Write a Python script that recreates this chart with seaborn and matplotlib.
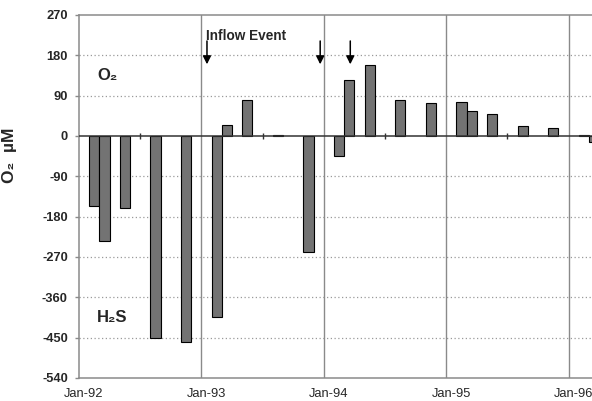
import seaborn as sns
import matplotlib.pyplot as plt
import matplotlib.transforms as mtransforms
import pandas as pd

# sampling months and O2 (+) / H2S (-) values, uM
months = ['Feb-92', 'Mar-92', 'May-92', 'Aug-92', 'Nov-92',
          'Feb-93', 'Mar-93', 'May-93', 'Aug-93', 'Nov-93',
          'Feb-94', 'Mar-94', 'May-94', 'Aug-94', 'Nov-94',
          'Feb-95', 'Mar-95', 'May-95', 'Aug-95', 'Nov-95',
          'Feb-96', 'Mar-96']
o2 = [-156, -234, -161, -450, -460,
      -405, 25, 80, 3, -258,
      -44, 125, 158, 80, 73,
      75, 56, 49, 23, 18,
      2, -14]
year_labels = ['Jan-92', 'Jan-93', 'Jan-94', 'Jan-95', 'Jan-96']
yticks = [-540, -450, -360, -270, -180, -90, 0, 90, 180, 270]
# inflow arrows (month offsets from Jan-92)
arrow_months = [12.55, 23.65, 26.6]

sns.set_style('white')
plt.rcParams['font.family'] = ['Liberation Sans', 'DejaVu Sans']

d = pd.to_datetime(pd.Series(months), format='%b-%y')
df = pd.DataFrame({'pos': (d.dt.year - 1992) * 12 + d.dt.month - 1 + 0.5,
                   'o2': o2})

fig = plt.figure(figsize=(5.92, 4.01), dpi=100)
ax = fig.add_axes([0.1334, 0.0574, 0.8666, 0.9052])

sns.barplot(data=df, x='pos', y='o2', native_scale=True, width=1.0,
            color='#737373', saturation=1, edgecolor='black', linewidth=0.8,
            errorbar=None, ax=ax, zorder=3)

ax.set_xlim(0, 50.3)
ax.set_ylim(-540, 270)

# gridlines
for v in yticks[1:-1]:
    if v != 0:
        ax.axhline(v, color='#9a9a9a', lw=0.9, ls=(0, (1, 2)), zorder=1)
ax.axhline(0, color='#333333', lw=1.1, zorder=4)
for i in range(1, len(year_labels)):
    ax.axvline(i * 12, color='#8a8a8a', lw=1.0, zorder=2)
# july minor ticks on the zero line
jul = [6 + 12 * i for i in range(4)]
ax.plot(jul, [0] * len(jul), ls='none', marker='|', ms=5, mew=1, color='#333333', zorder=5)

for s in ['left', 'top', 'bottom']:
    ax.spines[s].set_color('#8a8a8a')
    ax.spines[s].set_linewidth(1.1)
ax.spines['right'].set_visible(False)

ax.set_yticks(yticks)
ax.set_yticklabels([str(v) for v in yticks], fontweight='bold', fontsize=9.3)
ax.tick_params(axis='y', length=3, width=1, color='#8a8a8a', pad=5, left=True)
ax.set_xticks([12 * i for i in range(len(year_labels))])
ax.set_xticklabels(year_labels, fontsize=9.3)
ax.tick_params(axis='x', length=0, pad=7.5)
off = mtransforms.ScaledTranslation(5 / 100, 0, fig.dpi_scale_trans)
for lab in ax.get_xticklabels():
    lab.set_transform(lab.get_transform() + off)
ax.set_xlabel('')

ax.set_ylabel('O\u2082  \u00b5M', fontsize=12.5, fontweight='bold')
ax.yaxis.set_label_coords(-0.121, 0.614)

ax.text(1.8, 136, 'O\u2082', fontsize=12, fontweight='bold', va='center')
ax.text(1.8, -404, 'H\u2082S', fontsize=12, fontweight='bold', va='center')
ax.text(12.5, 224, 'Inflow Event', fontsize=9.8, fontweight='bold', va='center')
for m in arrow_months:
    ax.annotate('', xy=(m, 160), xytext=(m, 212),
                arrowprops=dict(arrowstyle='-|>', color='black', lw=1.1,
                                mutation_scale=12, shrinkA=0, shrinkB=0))

fig.savefig('out.png', dpi=100)
